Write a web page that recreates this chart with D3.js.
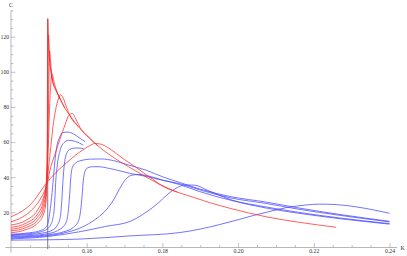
<!DOCTYPE html>
<html>
<head>
<meta charset="utf-8">
<script src="https://cdn.jsdelivr.net/npm/d3@7"></script>
<style>
  html, body { margin: 0; padding: 0; background: #fff; }
  svg { display: block; }
  .axis text { font-family: "Liberation Serif", "DejaVu Serif", serif; font-size: 5.8px; fill: #333; }
  .axis line { stroke: #9a9a9a; stroke-width: 0.6; }
  .axis-title { font-family: "Liberation Serif", "DejaVu Serif", serif; font-size: 6px; fill: #333; }
</style>
</head>
<body>
<div id="chart"></div>
<script>
// tick values
const xTicks = [0.16, 0.18, 0.20, 0.22, 0.24];
const xMinorTicks = [0.145, 0.15, 0.155, 0.165, 0.17, 0.175, 0.185, 0.19, 0.195, 0.205, 0.21, 0.215, 0.225, 0.23, 0.235];
const yTicks = [20, 40, 60, 80, 100, 120];
const yMinorTicks = [5, 10, 15, 25, 30, 35, 45, 50, 55, 65, 70, 75, 85, 90, 95, 105, 110, 115, 125, 130, 135];

// critical coupling marker
const kc = 0.1497;
const kcRange = [-1, 130.5];

// common high-K side shared by the red curves
const redEnvelope = [[0.1497,130],[0.1500,113],[0.1505,101],[0.1510,94.5],[0.1520,89],[0.1530,84.5],[0.1542,79.5],
  [0.1556,75],[0.1578,68.8],[0.1604,63],[0.1630,57.8],[0.1662,52.6],[0.1690,48.6],[0.1714,45.5],[0.1754,40.5],
  [0.1794,35.8],[0.1840,31.5],[0.1886,28.3],[0.1930,25.2],[0.1979,22.3],[0.2076,17.4],[0.2160,14.4],[0.2259,11.5]];

// red curves, rising side up to where they join the envelope
const redA = [[0.1400,17.5],[0.1420,19.5],[0.1440,22.3],[0.1460,26.5],[0.1475,31],[0.1493,36.5],[0.1505,39.5],
  [0.1520,43],[0.1547,48.2],[0.1570,52.5],[0.1591,55.7],[0.1608,58],[0.1622,59.2],[0.1638,58.8],[0.1655,57],
  [0.1675,54],[0.1700,50],[0.1730,45.7],[0.1760,41],[0.1780,38]];
const redB = [[0.1400,14.7],[0.1430,17.3],[0.1460,22.5],[0.1480,28.5],[0.1490,33],[0.1497,38],[0.1503,44],
  [0.1516,53],[0.1530,62],[0.1543,70],[0.1553,75.3],[0.1562,76.3],[0.1572,72.8],[0.1585,67.3]];
const redC = [[0.1400,12.8],[0.1440,15.5],[0.1470,21.3],[0.1485,28],[0.1493,35],[0.1500,47],[0.1505,57],
  [0.1511,69],[0.1518,78.5],[0.1525,84.5],[0.1531,87],[0.1538,85],[0.1548,79]];
const redD = [[0.1400,11.5],[0.1440,13.9],[0.1470,19],[0.1485,26],[0.1493,36],[0.1498,55],[0.1503,85],
  [0.1508,99],[0.1514,94],[0.1520,89.5]];
const redE = [[0.1400,10.4],[0.1440,12.6],[0.1470,17.2],[0.1485,23.5],[0.1492,32],[0.1496,48],[0.1499,80],
  [0.1502,112],[0.1506,102],[0.1510,95]];
const redF = [[0.1400,9.4],[0.1440,11.4],[0.1470,15.5],[0.1485,21],[0.1492,29],[0.1495,42],[0.1497,75],
  [0.1499,121],[0.1502,107]];
const redG = [[0.1400,8.4],[0.1440,10.2],[0.1470,13.8],[0.1485,18.5],[0.1492,25],[0.1495,38],[0.1496,70],[0.1497,130]];

// blue curves
const blueA = [[0.1400,7.6],[0.1450,8.4],[0.1480,9.8],[0.1492,11.5],[0.1498,14],[0.1502,19],[0.1506,26],
  [0.1511,37],[0.1516,49],[0.1521,57.5],[0.1528,62.5],[0.1537,65.5],[0.1550,65.7],[0.1565,64.7],[0.1580,62.5],[0.1596,60.2]];
const blueB = [[0.1400,7.2],[0.1450,7.9],[0.1480,9],[0.1495,10.5],[0.1505,13],[0.1511,17],[0.1515,24],
  [0.1518,37],[0.1523,48],[0.1530,55.5],[0.1540,59.7],[0.1552,61],[0.1570,60.4],[0.1591,58.3]];
const blueC = [[0.1400,6.8],[0.1450,7.4],[0.1490,8.5],[0.1510,10],[0.1522,12.5],[0.1530,17],[0.1534,26],
  [0.1537,37],[0.1541,47.5],[0.1547,53.5],[0.1555,55.8],[0.1567,56.6],[0.1580,56.6],[0.1592,56.2]];
const blueD = [[0.1400,6.3],[0.1450,6.8],[0.1500,8],[0.1530,10.5],[0.1545,14],[0.1551,20],[0.1555,30],
  [0.1558,40],[0.1562,45.5],[0.1570,48],[0.1585,49.5],[0.1610,50.3],[0.1640,50.4],[0.1670,49.5],[0.1710,47],
  [0.1757,44],[0.1800,40.3],[0.1846,37],[0.1899,33.3],[0.1979,29],[0.2076,25.8],[0.2160,22.5],[0.2269,18.8],[0.2400,14.9]];
const blueE = [[0.1400,5.9],[0.1450,6.3],[0.1500,7.3],[0.1540,9],[0.1565,11.5],[0.1578,15],[0.1584,21],
  [0.1588,30],[0.1591,38],[0.1595,43],[0.1602,45.3],[0.1615,46],[0.1630,46],[0.1660,45],[0.1690,43.5],
  [0.1714,42.2],[0.1757,40.5],[0.1800,38.3],[0.1846,36.3],[0.1899,32.8],[0.1979,28.3],[0.2076,25],[0.2160,21.8],[0.2269,18.3],[0.2400,14.6]];
const blueF = [[0.1400,5.4],[0.1450,5.9],[0.1500,6.8],[0.1550,8.8],[0.1582,11],[0.1605,13.5],[0.1628,16.8],
  [0.1652,21.5],[0.1672,27.5],[0.1687,33.5],[0.1702,38.5],[0.1717,41],[0.1737,41.6],[0.1765,40.6],[0.1800,38.4],
  [0.1846,35.8],[0.1899,31.8],[0.1979,27],[0.2076,23],[0.2160,20],[0.2269,16.8],[0.2400,13.6]];
const blueG = [[0.1400,4.9],[0.1450,5.4],[0.1500,6.3],[0.1582,9],[0.1650,12],[0.1714,14.8],[0.1759,20.4],
  [0.1790,25.5],[0.1815,30.5],[0.1840,34.2],[0.1862,35.6],[0.1885,35.5],[0.1920,32.5],[0.1979,27.3],
  [0.2076,22.4],[0.2160,19.5],[0.2269,16.4],[0.2400,13.3]];
const blueH = [[0.1400,4.2],[0.1500,4.4],[0.1582,4.8],[0.1714,6.6],[0.1846,8.5],[0.1900,10.5],[0.1950,13],
  [0.2000,15.8],[0.2040,18.2],[0.2076,20.1],[0.2130,22.8],[0.2180,24.2],[0.2215,24.7],[0.2260,24.4],
  [0.2310,23.2],[0.2360,21.3],[0.2400,19.5]];

const redCurves = [redA, redB, redC, redD, redE, redF, redG];
const blueCurves = [blueA, blueB, blueC, blueD, blueE, blueF, blueG, blueH];

const width = 407, height = 256;

//create svg for chart
const svg = d3.select('#chart').append('svg')
  .attr('width', width)
  .attr('height', height);

//x and y scales
const x = d3.scaleLinear().domain([0.14, 0.24]).range([11, 389.5]);
const y = d3.scaleLinear().domain([0, 120]).range([247.5, 36.7]);

//axis lines (they run a little past the ticks)
svg.append('line')
  .attr('x1', x(0.1385)).attr('x2', x(0.242))
  .attr('y1', y(0)).attr('y2', y(0))
  .attr('stroke', '#9a9a9a').attr('stroke-width', 0.7);
svg.append('line')
  .attr('x1', x(0.14)).attr('x2', x(0.14))
  .attr('y1', y(-3)).attr('y2', y(135))
  .attr('stroke', '#9a9a9a').attr('stroke-width', 0.7);

//ticks point into the plot
svg.append('g').attr('class', 'axis')
  .attr('transform', `translate(0, ${y(0)})`)
  .call(d3.axisBottom(x).tickValues(xMinorTicks).tickSize(-2.5).tickFormat(''));
svg.append('g').attr('class', 'axis')
  .attr('transform', `translate(0, ${y(0)})`)
  .call(d3.axisBottom(x).tickValues(xTicks).tickSize(-4.5).tickPadding(1.6).tickFormat(d3.format('.2f')));
svg.append('g').attr('class', 'axis')
  .attr('transform', `translate(${x(0.14)}, 0)`)
  .call(d3.axisLeft(y).tickValues(yMinorTicks).tickSize(-2.5).tickFormat(''));
svg.append('g').attr('class', 'axis')
  .attr('transform', `translate(${x(0.14)}, 0)`)
  .call(d3.axisLeft(y).tickValues(yTicks).tickSize(-4.5).tickPadding(1.8));

svg.selectAll('.axis .domain').remove();
svg.selectAll('.axis').attr('font-size', null).attr('font-family', null);

//axis titles
svg.append('text').attr('class', 'axis-title')
  .attr('x', x(0.14)).attr('y', 7)
  .attr('text-anchor', 'middle')
  .text('C');
svg.append('text').attr('class', 'axis-title')
  .attr('x', 400.5).attr('y', y(0) + 2)
  .text('K');

const line = d3.line()
  .x(d => x(d[0]))
  .y(d => y(d[1]))
  .curve(d3.curveMonotoneX);

const plot = svg.append('g').attr('class', 'curves');

//critical point line
plot.append('line')
  .attr('x1', x(kc)).attr('x2', x(kc))
  .attr('y1', y(kcRange[0])).attr('y2', y(kcRange[1]))
  .attr('stroke', '#707070').attr('stroke-width', 0.9);

plot.selectAll('.blue')
  .data(blueCurves)
  .enter().append('path')
  .attr('class', 'blue')
  .attr('d', line)
  .attr('fill', 'none')
  .attr('stroke', '#4646ff')
  .attr('stroke-width', 0.75);

//each red curve runs a short way onto the envelope, the envelope tail is drawn once
const redPaths = redCurves.map(r => {
  const lastK = r[r.length - 1][0];
  const tail = redEnvelope.filter(d => d[0] > lastK);
  return r === redG ? r.concat(tail) : r.concat(tail.slice(0, 2));
});

plot.selectAll('.red')
  .data(redPaths)
  .enter().append('path')
  .attr('class', 'red')
  .attr('d', line)
  .attr('fill', 'none')
  .attr('stroke', '#ff2a2a')
  .attr('stroke-width', 0.75);
</script>
</body>
</html>
